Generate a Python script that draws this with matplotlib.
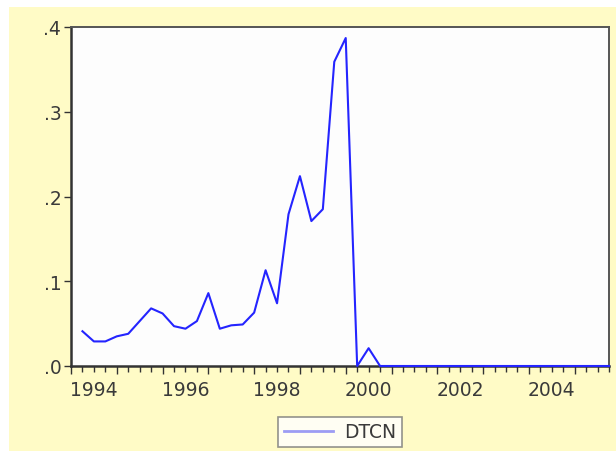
import pandas as pd
import numpy as np
import matplotlib
matplotlib.use('Agg')
import matplotlib.pyplot as plt
from matplotlib.patches import Rectangle

# quarterly series, 1994Q2 .. 2005Q4
quarters = pd.period_range('1994Q2', '2005Q4', freq='Q')
dtcn = [0.041, 0.029, 0.029, 0.035, 0.038, 0.053, 0.068, 0.062,
        0.047, 0.044, 0.053, 0.086, 0.044, 0.048, 0.049, 0.063,
        0.113, 0.074, 0.179, 0.224, 0.171, 0.185, 0.359, 0.387,
        0.0, 0.021, 0.0,
        0.0, 0.0, 0.0, 0.0, 0.0, 0.0, 0.0, 0.0, 0.0, 0.0,
        0.0, 0.0, 0.0, 0.0, 0.0, 0.0, 0.0, 0.0, 0.0, 0.0]
series_name = 'DTCN'
year_labels = ['1994', '1996', '1998', '2000', '2002', '2004']
y_ticks = [0.0, 0.1, 0.2, 0.3, 0.4]
y_labels = ['.0', '.1', '.2', '.3', '.4']

plt.rcParams['font.family'] = ['DejaVu Sans']
txt_col = '#3a3a3a'
yellow = '#fffbc6'
fs = 13.5

x = np.array([p.year + (p.quarter - 1) / 4 for p in quarters])

fig = plt.figure(figsize=(6.16, 4.52), dpi=100, facecolor='white')
fig.patches.append(Rectangle((9 / 616, 0), 1, 1 - 8 / 452, transform=fig.transFigure,
                             facecolor=yellow, edgecolor='none', zorder=-10))

ax = fig.add_axes([71 / 616, 1 - 367 / 452, (609 - 71) / 616, (367 - 28) / 452])
ax.set_facecolor('#fdfdfd')
line, = ax.plot(x, dtcn, color='#2424ff', lw=1.5, clip_on=False, zorder=5)

ax.set_xlim(1994.0, 2005.75)
ax.set_ylim(0, 0.4)

for s in ax.spines.values():
    s.set_color('#555555')
    s.set_linewidth(1.4)
ax.spines['left'].set_color('#333333')
ax.spines['bottom'].set_color('#333333')
ax.spines['left'].set_linewidth(1.8)
ax.spines['bottom'].set_linewidth(1.8)

ax.set_yticks(y_ticks)
ax.set_yticklabels(y_labels)
ax.tick_params(axis='y', direction='out', length=5, width=1, color='#333333',
               labelsize=fs, labelcolor=txt_col, pad=2)

years = sorted(set(int(v) for v in x) | {1994})
ax.set_xticks(years)
ax.set_xticklabels([])
ax.set_xticks(np.concatenate([x, [1994.0]]), minor=True)
ax.tick_params(axis='x', which='major', direction='out', length=6, width=1, color='#333333')
ax.tick_params(axis='x', which='minor', direction='out', length=4, width=1, color='#333333')

sec = ax.secondary_xaxis('bottom')
sec.set_xticks([int(y) + 0.5 for y in year_labels])
sec.set_xticklabels(year_labels)
sec.tick_params(length=0, labelsize=fs, labelcolor=txt_col, pad=10)
sec.spines['bottom'].set_visible(False)

leg = fig.legend([line], [series_name], loc='center',
                 bbox_to_anchor=(340 / 616, 1 - 433 / 452),
                 fontsize=fs, frameon=True, fancybox=False,
                 handlelength=2.6, handletextpad=0.6, borderpad=0.3)
leg.get_frame().set_edgecolor('#777777')
leg.get_frame().set_linewidth(1.2)
leg.get_lines()[0].set_color('#9c9cf4')
leg.get_lines()[0].set_linewidth(2)
for t in leg.get_texts():
    t.set_color(txt_col)

plt.savefig('out.png', dpi=100, facecolor='white')
plt.close()
